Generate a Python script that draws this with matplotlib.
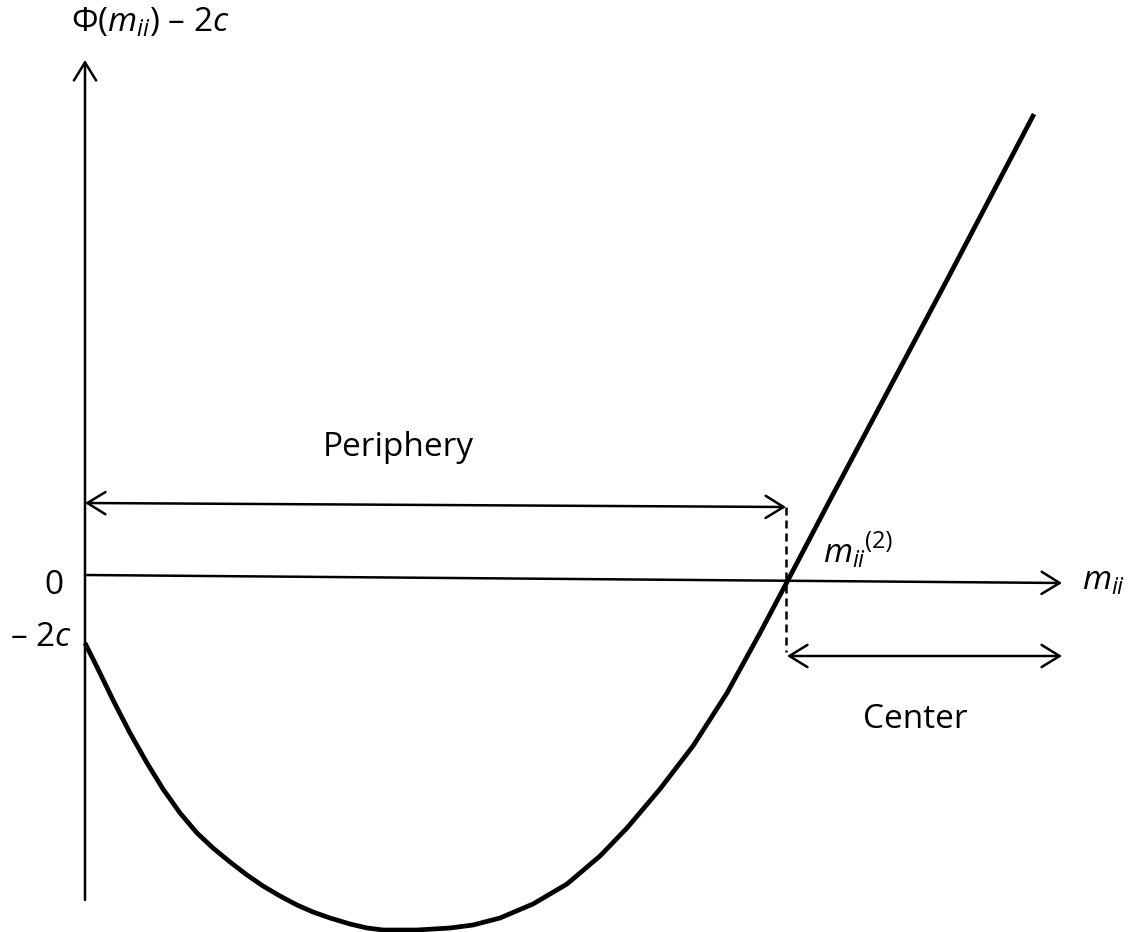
import matplotlib
matplotlib.use("Agg")
import matplotlib.pyplot as plt

plt.rcParams['font.family'] = ['Open Sans', 'DejaVu Sans']
plt.rcParams['mathtext.fontset'] = 'custom'
plt.rcParams['mathtext.rm'] = 'Open Sans'
plt.rcParams['mathtext.it'] = 'Open Sans:italic'
plt.rcParams['mathtext.bf'] = 'Open Sans:bold'

# schematic curve Phi(m_ii) - 2c (origin = axis crossing)
curve_x = [0, 12, 28, 45, 62, 78, 95, 112, 128, 145, 162, 178, 195, 212, 228,
           245, 265, 282, 298, 332, 365, 388, 415, 448, 482, 515, 542, 575,
           608, 642, 675, 702, 745, 862, 949]
curve_y = [-68, -92, -125, -158, -188, -214, -238, -258, -273, -287, -300,
           -311, -321, -330, -337, -343, -349, -353, -355, -355, -353, -350,
           -343, -329, -309, -281, -253, -214, -171, -118, -58, -7, 75, 295,
           461]

y_axis_x = [0, 0]
y_axis_y = [-325, 515]
x_axis_x = [0, 977]
x_axis_y = [0, -8]
periphery_x = [0, 701]
periphery_y = [72, 68]
threshold_x = [701, 701]
threshold_y = [68, -77]
center_x = [702, 977]
center_y = [-81, -81]

fig = plt.figure(figsize=(11.31, 9.32), dpi=100)
ax = fig.add_axes([0, 0, 1, 1])
ax.set_xlim(-85, 1046)
ax.set_ylim(-357, 575)
ax.axis('off')

lw_axis = 1.8
arrow_kw = dict(color='black', lw=lw_axis, shrinkA=0, shrinkB=0, mutation_scale=20)


def arrow(xs, ys, style):
    ax.annotate('', xy=(xs[1], ys[1]), xytext=(xs[0], ys[0]),
                arrowprops=dict(arrowstyle=style + ',head_length=0.65,head_width=0.4',
                                **arrow_kw))


arrow(y_axis_x, y_axis_y, '->')
arrow(x_axis_x, x_axis_y, '->')
arrow(periphery_x, periphery_y, '<->')
arrow(center_x, center_y, '<->')
ax.plot(threshold_x, threshold_y, color='black', lw=lw_axis, ls=(0, (3.2, 2.0)))
ax.plot(curve_x, curve_y, color='black', lw=3.4, solid_joinstyle='round',
        solid_capstyle='butt')

fs = 24
ax.text(65, 552, r'$\Phi(m_{ii})$ – 2$c$', fontsize=fs, ha='center', va='center')
ax.text(-31, -11, '0', fontsize=fs, ha='center', va='center')
ax.text(-44, -62, r'– 2$c$', fontsize=fs, ha='center', va='center')
ax.text(313, 127, 'Periphery', fontsize=fs, ha='center', va='center')
m2 = ax.text(738, 12, r'$m_{ii}$', fontsize=fs, ha='left', va='baseline')
ax.annotate('(2)', xy=(0.97, 0.5), xycoords=m2, fontsize=17, ha='left', va='bottom')
ax.text(997, -15, r'$m_{ii}$', fontsize=fs, ha='left', va='baseline')
ax.text(830, -145, 'Center', fontsize=fs, ha='center', va='center')

fig.savefig('out.png', dpi=100)
